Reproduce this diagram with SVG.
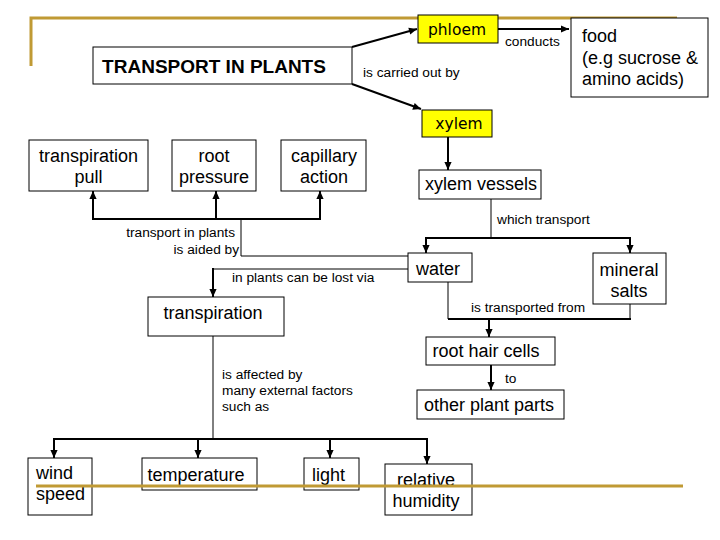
<svg xmlns="http://www.w3.org/2000/svg" width="720" height="540" viewBox="0 0 720 540">
<style>
.box{fill:#fff;stroke:#000;stroke-width:1}
.ybox{fill:#ffff00;stroke:#000;stroke-width:1}
.t{font-family:"Liberation Sans",Arial,sans-serif;font-size:18px;fill:#000}
.c{font-family:"DejaVu Sans",sans-serif;font-size:15.5px;fill:#000}
.s{font-family:"Liberation Sans",Arial,sans-serif;font-size:13.7px;fill:#000}
.w{fill:none;stroke:#000;stroke-width:2}
.n{fill:none;stroke:#000;stroke-width:1}
.a{fill:none;stroke:#000;stroke-width:2;marker-end:url(#ah)}
.gold{fill:none;stroke:#C09A34;stroke-width:3}
</style>
<defs>
<marker id="ah" viewBox="0 0 10 10" refX="10" refY="5" markerWidth="9" markerHeight="8" markerUnits="userSpaceOnUse" orient="auto">
<path d="M0,0.5 L10,5 L0,9.5 z" fill="#000"/>
</marker>
</defs>
<rect width="720" height="540" fill="#fff"/>
<g id="decor-top">
<polyline class="gold" points="31,66 31,18 677,18"/>
</g>
<g id="connectors">
<line class="a" x1="352" y1="47" x2="417" y2="29"/>
<line class="a" x1="352" y1="84" x2="421" y2="109"/>
<line class="a" x1="498" y1="29" x2="569" y2="29"/>
<line class="a" x1="448" y1="137" x2="448" y2="170"/>
<line class="n" x1="491" y1="199" x2="491" y2="238"/>
<line class="w" x1="425" y1="238" x2="631" y2="238"/>
<line class="a" x1="426" y1="237" x2="426" y2="253"/>
<line class="a" x1="630" y1="237" x2="630" y2="253"/>
<polyline class="n" points="408,256 241,256 241,219"/>
<line class="w" x1="92" y1="219" x2="321" y2="219"/>
<line class="a" x1="93" y1="220" x2="93" y2="191"/>
<line class="a" x1="216" y1="220" x2="216" y2="191"/>
<line class="a" x1="320" y1="220" x2="320" y2="191"/>
<polyline class="n" points="408,269 213,269 213,282"/>
<line class="a" x1="213" y1="268" x2="213" y2="297"/>
<polyline class="n" points="448,282 448,319"/>
<polyline class="n" points="630,304 630,319"/>
<line class="w" x1="448" y1="319" x2="631" y2="319"/>
<line class="a" x1="489" y1="318" x2="489" y2="337"/>
<line class="a" x1="491" y1="365" x2="491" y2="390"/>
<line class="n" x1="213" y1="336" x2="213" y2="439"/>
<line class="w" x1="53" y1="439" x2="428" y2="439"/>
<line class="a" x1="54" y1="438" x2="54" y2="458"/>
<line class="a" x1="198" y1="438" x2="198" y2="458"/>
<line class="a" x1="330" y1="438" x2="330" y2="458"/>
<line class="a" x1="427" y1="438" x2="427" y2="464"/>
<text class="s" x="505" y="46">conducts</text>
<text class="s" x="363" y="77">is carried out by</text>
<text class="s" x="497" y="224">which transport</text>
<text class="s" x="235" y="237" text-anchor="end">transport in plants</text>
<text class="s" x="239" y="254" text-anchor="end">is aided by</text>
<text class="s" x="232" y="282">in plants can be lost via</text>
<text class="s" x="471" y="312">is transported from</text>
<text class="s" x="505" y="383">to</text>
<text class="s" x="222" y="379">is affected by</text>
<text class="s" x="222" y="395">many external factors</text>
<text class="s" x="222" y="411">such as</text>
</g>
<g id="transport">
<rect class="box" x="93" y="47" width="259" height="37"/>
<text x="214" y="73" text-anchor="middle" style="font-family:'Liberation Sans',Arial,sans-serif;font-size:19px;font-weight:bold">TRANSPORT IN PLANTS</text>
</g>
<g id="phloem">
<rect class="ybox" x="418" y="15" width="80" height="28"/>
<text class="c" x="457" y="35" text-anchor="middle">phloem</text>
</g>
<g id="food">
<rect class="box" x="571" y="18" width="137" height="79"/>
<text class="t" x="582" y="42">food</text>
<text class="t" x="582" y="64">(e.g sucrose &amp;</text>
<text class="t" x="582" y="85">amino acids)</text>
</g>
<g id="xylem">
<rect class="ybox" x="422" y="110" width="70" height="27"/>
<text class="c" x="459" y="129" text-anchor="middle">xylem</text>
</g>
<g id="xylem-vessels">
<rect class="box" x="419" y="170" width="122" height="29"/>
<text class="t" x="481" y="190" text-anchor="middle">xylem vessels</text>
</g>
<g id="transpiration-pull">
<rect class="box" x="29" y="140" width="119" height="51"/>
<text class="t" x="88.5" y="162" text-anchor="middle">transpiration</text>
<text class="t" x="88.5" y="183" text-anchor="middle">pull</text>
</g>
<g id="root-pressure">
<rect class="box" x="172" y="140" width="84" height="51"/>
<text class="t" x="214" y="162" text-anchor="middle">root</text>
<text class="t" x="214" y="183" text-anchor="middle">pressure</text>
</g>
<g id="capillary-action">
<rect class="box" x="281" y="140" width="85" height="51"/>
<text class="t" x="324" y="162" text-anchor="middle">capillary</text>
<text class="t" x="324" y="183" text-anchor="middle">action</text>
</g>
<g id="water">
<rect class="box" x="408" y="253" width="64" height="29"/>
<text class="t" x="438" y="275" text-anchor="middle">water</text>
</g>
<g id="mineral-salts">
<rect class="box" x="593" y="253" width="73" height="51"/>
<text class="t" x="629" y="276" text-anchor="middle">mineral</text>
<text class="t" x="629" y="297" text-anchor="middle">salts</text>
</g>
<g id="transpiration">
<rect class="box" x="148" y="297" width="136" height="39"/>
<text class="t" x="213" y="319" text-anchor="middle">transpiration</text>
</g>
<g id="root-hair-cells">
<rect class="box" x="426" y="337" width="129" height="28"/>
<text class="t" x="486" y="357" text-anchor="middle">root hair cells</text>
</g>
<g id="other-plant-parts">
<rect class="box" x="417" y="390" width="147" height="29"/>
<text class="t" x="489" y="411" text-anchor="middle">other plant parts</text>
</g>
<g id="wind-speed">
<rect class="box" x="28" y="458" width="64" height="57"/>
<text class="t" x="36" y="479">wind</text>
<text class="t" x="36" y="500">speed</text>
</g>
<g id="temperature">
<rect class="box" x="142" y="458" width="115" height="32"/>
<text class="t" x="196" y="481" text-anchor="middle">temperature</text>
</g>
<g id="light">
<rect class="box" x="304" y="458" width="55" height="32"/>
<text class="t" x="312" y="481">light</text>
</g>
<g id="relative-humidity">
<rect class="box" x="385" y="464" width="87" height="51"/>
<text class="t" x="426" y="486" text-anchor="middle">relative</text>
<text class="t" x="426" y="507" text-anchor="middle">humidity</text>
</g>
<g id="decor-bottom">
<line class="gold" x1="36" y1="486" x2="683" y2="486"/>
</g>
</svg>
